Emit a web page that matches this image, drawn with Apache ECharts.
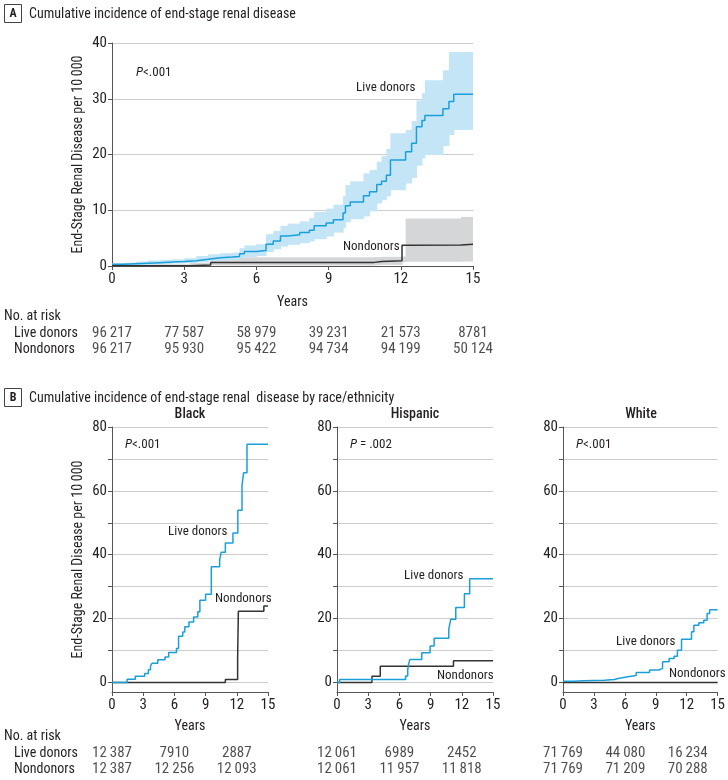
<!DOCTYPE html>
<html><head><meta charset="utf-8">
<script src="https://cdn.jsdelivr.net/npm/echarts@6/dist/echarts.min.js"></script>
<style>html,body{margin:0;padding:0;background:#fff}#c{width:728px;height:780px}</style>
</head><body><div id="c"></div>
<script>
// ---------- data ----------
const xTicks = [0, 3, 6, 9, 12, 15];

// Panel A: all donors
const aLiveTimes = [0,0.5,1,1.5,2,2.5,3,3.5,4,4.5,5,5.3,5.5,6,6.4,6.7,7,7.3,7.8,8.2,8.4,8.9,9.2,9.6,9.7,9.9,10.45,10.7,11,11.2,11.4,11.57,12.2,12.45,12.65,12.88,13,13.75,14,14.2,15];
const aLive      = [0.3,0.4,0.5,0.6,0.7,0.8,0.95,1.2,1.5,1.6,1.7,2.2,2.6,2.8,3.9,4.5,5.4,5.6,6.0,6.4,7.2,7.7,8.3,9.5,10.8,11.5,12.6,13.3,14.6,15.2,16.3,19.0,20.5,22.0,25.0,26.1,27.0,28.2,29.5,30.8,30.8];
const aLiveLower = [0.1,0.15,0.2,0.3,0.35,0.45,0.5,0.7,0.9,1.0,1.1,1.4,1.6,1.8,2.5,3.0,3.5,3.8,4.1,4.4,4.8,5.3,6.0,6.8,7.9,8.4,8.9,9.8,11.2,11.8,12.5,13.6,14.8,15.8,18.0,19.3,19.9,21.5,23.5,24.4,24.5];
const aLiveUpper = [0.5,0.6,0.8,1.0,1.1,1.2,1.4,1.8,2.1,2.3,2.4,3.2,3.7,3.9,5.7,6.3,7.2,7.6,8.0,8.6,9.7,10.3,11.0,12.5,14.5,15.2,16.6,17.2,18.7,19.7,21.0,23.8,24.4,26.0,29.7,31.0,33.3,35.1,38.4,38.4,38.4];
const aNonTimes = [0,3.25,4.1,10.9,11.2,12.05,12.2,14.5,15];
const aNon      = [0.05,0.2,0.65,0.8,0.95,3.7,3.75,3.9,3.9];
const aNonLower = [0,0,0.1,0.15,0.2,0.7,0.75,0.8,0.8];
const aNonUpper = [0.3,0.6,1.55,1.6,1.65,1.7,8.5,8.8,8.8];
const aRiskYears = [0, 3, 6, 9, 12, 15];
const aRiskLive = [96217, 77587, 58979, 39231, 21573, 8781];
const aRiskNon  = [96217, 95930, 95422, 94734, 94199, 50124];

// Panel B: by race/ethnicity
const bGroups = ['Black', 'Hispanic', 'White'];
const bPText = ['<.001', ' = .002', '<.001'];
const blackLiveTimes = [0,1.45,2.24,3.14,3.5,3.7,3.85,4.4,5.1,5.45,6.2,6.4,6.8,7.0,7.4,7.85,8.25,8.45,9.0,9.55,10.35,10.5,10.9,11.63,12.1,12.5,12.66,12.98,15];
const blackLive      = [0,1,1.9,2.8,4.0,5.1,6.0,7.1,8.0,9.4,10.6,14.5,15.8,17.4,18.9,20.5,22.1,25.7,27.6,36.2,38.4,40.8,43.7,46.8,53.9,61.7,65.7,74.6,74.6];
const blackNonTimes  = [0,10.9,12.08,12.15,14.6,15];
const blackNon       = [0,0.9,7.5,22.3,23.9,23.9];
const hispLiveTimes  = [0,0.25,6.6,6.8,6.87,7.0,8.15,8.95,9.34,10.75,10.94,11.42,12.25,12.76,15];
const hispLive       = [0,0.9,2.0,3.9,5.4,7.2,9.3,11.4,13.8,16.7,19.8,23.5,27.8,32.5,32.5];
const hispNonTimes   = [0,3.36,4.16,11.2,15];
const hispNon        = [0,1.9,5.1,6.8,6.8];
const whiteLiveTimes = [0,1,2,2.94,4,5.0,5.34,6.3,7.1,8.4,9.3,9.66,10.3,10.78,11.1,11.5,12.47,12.7,13.18,13.66,13.98,14.23,15];
const whiteLive      = [0.4,0.5,0.6,0.7,0.9,1.25,1.8,2.2,3.1,3.9,4.4,6.5,7.5,8.2,10.1,13.5,15.9,17.9,18.7,19.5,21.6,22.8,22.8];
const whiteNonTimes  = [0,15];
const whiteNon       = [0,0];
const bRiskYears = [0, 6, 12];
const blackRiskLive = [12387, 7910, 2887];
const blackRiskNon  = [12387, 12256, 12093];
const hispRiskLive  = [12061, 6989, 2452];
const hispRiskNon   = [12061, 11957, 11818];
const whiteRiskLive = [71769, 44080, 16234];
const whiteRiskNon  = [71769, 71209, 70288];
const bYTicks = [0,10,20,30,40,50,60,70,80];
const bYLabels = [0,20,40,60,80];
const rowNames = ['Live donors', 'Nondonors'];

// ---------- styling ----------
const FONT = "'Liberation Sans Narrow', 'Roboto Condensed', 'DejaVu Sans Condensed', sans-serif";
const TXT = '#231f20';
const AX = '#555';
const GRID = '#cccccc';
const BLUE = '#1b9fdb';
const BLUE_BAND = '#c3e5f6';
const GRAY_BAND = '#d5d6d8';
const DARK = '#333';

const zip = (t, v) => t.map((x, i) => [x, v[i]]);
const fmt = n => n >= 10000 ? String(n).replace(/(\d+)(\d{3})$/, '$1\u2009$2') : String(n);

const plotGrids = [
  {left: 112, top: 43, width: 361, height: 223},
  {left: 112, top: 427, width: 156, height: 265},
  {left: 337, top: 427, width: 156, height: 265},
  {left: 563, top: 427, width: 156, height: 265}
];
const riskGrids = [
  {left: 112, top: 325, width: 361, height: 32},
  {left: 112, top: 745, width: 156, height: 32},
  {left: 337, top: 745, width: 156, height: 32},
  {left: 563, top: 745, width: 156, height: 32}
];
const grids = plotGrids.concat(riskGrids);

const xAxes = [], yAxes = [], series = [];
const lbl = {fontFamily: FONT, fontSize: 15, color: TXT};
const lbl14 = {fontFamily: FONT, fontSize: 14, color: TXT};

plotGrids.forEach((g, i) => {
  xAxes.push({
    gridIndex: i, type: 'value', min: 0, max: 15, interval: 3,
    axisLine: {show: true, onZero: false, lineStyle: {color: AX, width: 1}},
    axisTick: {show: true, length: 4, lineStyle: {color: AX}},
    axisLabel: Object.assign({margin: 6}, lbl),
    splitLine: {show: false},
    name: 'Years', nameLocation: 'middle', nameGap: i === 0 ? 29 : 27,
    nameTextStyle: lbl14
  });
});
yAxes.push({
  gridIndex: 0, type: 'value', min: 0, max: 40, interval: 10,
  axisLine: {show: true, onZero: false, lineStyle: {color: AX}},
  axisTick: {show: true, length: 4, lineStyle: {color: AX}},
  axisLabel: Object.assign({margin: 5}, lbl),
  splitLine: {show: true, lineStyle: {color: GRID, width: 1}},
  name: 'End-Stage Renal Disease per 10\u2009000', nameLocation: 'middle', nameGap: 27,
  nameTextStyle: lbl14
});
[1, 2, 3].forEach(i => {
  yAxes.push({
    gridIndex: i, type: 'value', min: -3, max: 80,
    axisLine: {show: true, onZero: false, lineStyle: {color: AX}},
    axisTick: {show: true, length: 4, lineStyle: {color: AX}, customValues: bYTicks},
    axisLabel: Object.assign({margin: 5, customValues: bYLabels}, lbl),
    splitLine: {show: true, lineStyle: {color: GRID, width: 1}},
    name: i === 1 ? 'End-Stage Renal Disease per 10\u2009000' : '',
    nameLocation: 'middle', nameGap: 27, nameTextStyle: lbl14
  });
});
riskGrids.forEach((g, k) => {
  const gi = 4 + k;
  xAxes.push({gridIndex: gi, type: 'value', min: 0, max: 15, show: false});
  yAxes.push({
    gridIndex: gi, type: 'category', data: rowNames, inverse: true,
    axisLine: {show: false}, axisTick: {show: false}, splitLine: {show: false},
    axisLabel: Object.assign({show: k <= 1, interval: 0, align: 'left', margin: g.left - 14}, lbl14)
  });
});

function line(idx, data, color, z) {
  return {type: 'line', xAxisIndex: idx, yAxisIndex: idx, data, step: 'end', symbol: 'none',
    lineStyle: {color, width: 1.5}, itemStyle: {color}, z: z || 3, silent: true, animation: false};
}
// confidence band: one rectangle per step interval, placed through the axes
function band(idx, times, lower, upper, color) {
  const data = times.slice(0, -1).map((t, i) => [t, times[i + 1], lower[i], upper[i]]);
  return {type: 'custom', xAxisIndex: idx, yAxisIndex: idx, data, silent: true, z: 2, clip: true,
    animation: false, encode: {x: [0, 1], y: [2, 3]},
    renderItem: (params, api) => {
      const p1 = api.coord([api.value(0), api.value(3)]);
      const p2 = api.coord([api.value(1), api.value(2)]);
      return {type: 'rect', shape: {x: p1[0], y: p1[1], width: p2[0] - p1[0] + 0.6, height: p2[1] - p1[1]},
        style: {fill: color}};
    }};
}
function risk(idx, years, live, non) {
  const d = [];
  years.forEach((y, i) => { d.push([y, 0, live[i]]); d.push([y, 1, non[i]]); });
  return {type: 'scatter', xAxisIndex: idx, yAxisIndex: idx, data: d, symbolSize: 1,
    itemStyle: {color: 'rgba(0,0,0,0)'}, silent: true, animation: false,
    label: Object.assign({show: true, position: 'inside', formatter: p => fmt(p.value[2])}, lbl)};
}

series.push(band(0, aNonTimes, aNonLower, aNonUpper, GRAY_BAND));
series.push(band(0, aLiveTimes, aLiveLower, aLiveUpper, BLUE_BAND));
series.push(line(0, zip(aNonTimes, aNon), DARK, 4));
series.push(line(0, zip(aLiveTimes, aLive), BLUE, 5));
series.push(risk(4, aRiskYears, aRiskLive, aRiskNon));
series.push(line(1, zip(blackNonTimes, blackNon), DARK, 4));
series.push(line(1, zip(blackLiveTimes, blackLive), BLUE, 5));
series.push(line(2, zip(hispNonTimes, hispNon), DARK, 4));
series.push(line(2, zip(hispLiveTimes, hispLive), BLUE, 5));
series.push(line(3, zip(whiteNonTimes, whiteNon), DARK, 4));
series.push(line(3, zip(whiteLiveTimes, whiteLive), BLUE, 5));
series.push(risk(5, bRiskYears, blackRiskLive, blackRiskNon));
series.push(risk(6, bRiskYears, hispRiskLive, hispRiskNon));
series.push(risk(7, bRiskYears, whiteRiskLive, whiteRiskNon));

// ---------- annotations ----------
const T = (x, y, text, opt) => ({type: 'text', x, y, silent: true, z: 10,
  style: Object.assign({text, fill: TXT, font: '14px ' + FONT, textAlign: 'left', textVerticalAlign: 'middle'}, opt || {})});
const P = (x, y, rest) => T(x, y, '{i|P}' + rest, {font: '13px ' + FONT,
  rich: {i: {fontStyle: 'italic', fontFamily: FONT, fontSize: 13, fill: TXT}}});
const A13 = {font: '13px ' + FONT};

const graphics = [
  {type: 'rect', shape: {x: 4.5, y: 4.5, width: 17, height: 18}, style: {fill: 'none', stroke: '#444', lineWidth: 1}, silent: true},
  T(13, 14, 'A', {font: 'bold 12px ' + FONT, textAlign: 'center'}),
  T(29, 14, 'Cumulative incidence of end-stage renal disease'),
  {type: 'rect', shape: {x: 4.5, y: 388.5, width: 17, height: 18}, style: {fill: 'none', stroke: '#444', lineWidth: 1}, silent: true},
  T(13, 398, 'B', {font: 'bold 12px ' + FONT, textAlign: 'center'}),
  T(29, 398, 'Cumulative incidence of end-stage renal  disease by race/ethnicity'),
  T(4, 316, 'No. at risk'),
  T(4, 736, 'No. at risk'),
  P(136, 73, '<.001'),
  T(356, 88, 'Live donors', A13),
  T(343, 247, 'Nondonors', A13),
  T(168, 532, 'Live donors', A13),
  T(215, 599, 'Nondonors', A13),
  T(404, 576, 'Live donors', A13),
  T(437, 676, 'Nondonors', A13),
  T(616, 642, 'Live donors', A13),
  T(669, 674, 'Nondonors', A13)
];
bGroups.forEach((g, i) => {
  const pg = plotGrids[i + 1];
  graphics.push(T(pg.left + pg.width / 2, 414, g, {textAlign: 'center', font: '500 14px ' + FONT}));
  graphics.push(P(pg.left + 13, 445, bPText[i]));
});

const chart = echarts.init(document.getElementById('c'), null, {renderer: 'canvas'});
chart.setOption({
  animation: false,
  backgroundColor: '#fff',
  grid: grids.map(g => Object.assign({containLabel: false}, g)),
  xAxis: xAxes,
  yAxis: yAxes,
  series,
  graphic: graphics
});
</script>
</body></html>
